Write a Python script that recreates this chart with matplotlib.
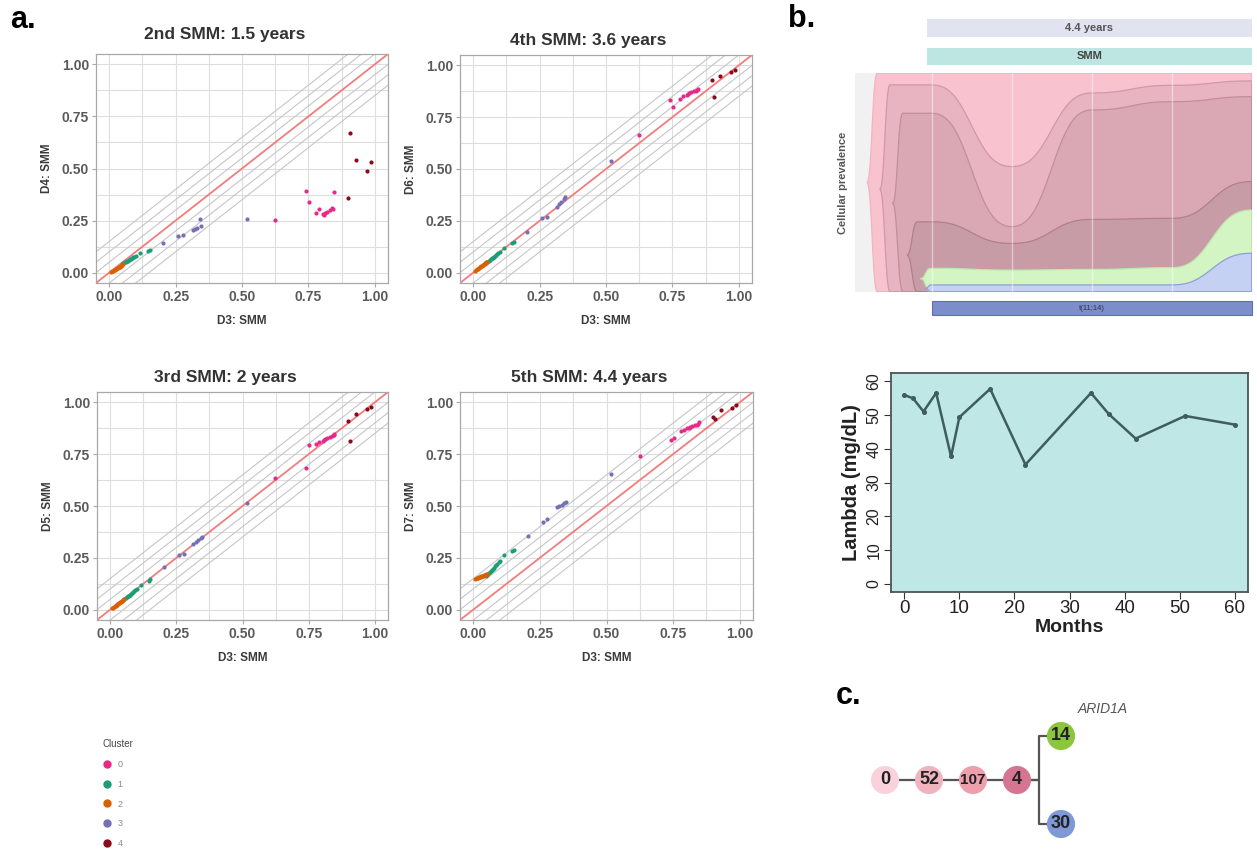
import numpy as np
import matplotlib
matplotlib.use("Agg")
import matplotlib.pyplot as plt
from matplotlib.patches import Rectangle, Circle
from matplotlib.lines import Line2D
from matplotlib.ticker import FormatStrFormatter

plt.rcParams['font.family'] = ['Liberation Sans', 'DejaVu Sans']

# ---------------- variant allele fractions by cluster ----------------
cluster_ids = [0, 1, 2, 3, 4]
cluster_colors = ['#E7298A', '#1B9E77', '#D95F02', '#7570B3', '#8B0A1A']

cluster = np.array([2] * 16 + [1] * 16 + [3] * 9 + [0] * 13 + [4] * 5)

d3 = np.array([
    0.008, 0.012, 0.015, 0.018, 0.021, 0.024, 0.027, 0.030, 0.032, 0.035, 0.038, 0.040, 0.043, 0.046, 0.049, 0.052,
    0.048, 0.053, 0.058, 0.062, 0.066, 0.070, 0.074, 0.078, 0.082, 0.086, 0.090, 0.095, 0.100, 0.116, 0.146, 0.152,
    0.204, 0.260, 0.277, 0.314, 0.323, 0.332, 0.342, 0.347, 0.518,
    0.624, 0.741, 0.753, 0.779, 0.791, 0.804, 0.809, 0.813, 0.821, 0.831, 0.838, 0.844, 0.847,
    0.900, 0.906, 0.928, 0.970, 0.985])

d4 = np.array([
    0.004, 0.006, 0.009, 0.011, 0.013, 0.016, 0.018, 0.020, 0.022, 0.025, 0.027, 0.029, 0.031, 0.034, 0.036, 0.040,
    0.041, 0.045, 0.049, 0.052, 0.055, 0.058, 0.061, 0.064, 0.067, 0.070, 0.073, 0.076, 0.080, 0.092, 0.104, 0.107,
    0.140, 0.177, 0.180, 0.204, 0.208, 0.214, 0.257, 0.224, 0.257,
    0.252, 0.392, 0.340, 0.287, 0.305, 0.280, 0.276, 0.285, 0.289, 0.300, 0.308, 0.304, 0.388,
    0.360, 0.672, 0.540, 0.489, 0.532])

d5 = np.array([
    0.006, 0.010, 0.013, 0.016, 0.019, 0.022, 0.025, 0.028, 0.030, 0.033, 0.036, 0.038, 0.041, 0.044, 0.046, 0.049,
    0.046, 0.051, 0.056, 0.060, 0.064, 0.068, 0.072, 0.076, 0.080, 0.084, 0.088, 0.093, 0.098, 0.118, 0.140, 0.146,
    0.205, 0.264, 0.268, 0.318, 0.326, 0.335, 0.345, 0.350, 0.513,
    0.637, 0.685, 0.794, 0.800, 0.808, 0.815, 0.818, 0.822, 0.826, 0.832, 0.838, 0.842, 0.846,
    0.912, 0.814, 0.944, 0.966, 0.976])

d6 = np.array([
    0.009, 0.013, 0.016, 0.019, 0.022, 0.025, 0.028, 0.031, 0.033, 0.036, 0.039, 0.041, 0.044, 0.047, 0.050, 0.053,
    0.047, 0.052, 0.057, 0.061, 0.065, 0.069, 0.073, 0.077, 0.081, 0.085, 0.089, 0.094, 0.099, 0.117, 0.144, 0.150,
    0.198, 0.262, 0.270, 0.318, 0.330, 0.340, 0.355, 0.366, 0.539,
    0.664, 0.833, 0.800, 0.840, 0.850, 0.858, 0.862, 0.866, 0.870, 0.874, 0.876, 0.880, 0.884,
    0.929, 0.846, 0.949, 0.970, 0.980])

d7 = np.array([
    0.150, 0.152, 0.153, 0.155, 0.156, 0.157, 0.158, 0.160, 0.161, 0.162, 0.164, 0.165, 0.166, 0.168, 0.170, 0.172,
    0.160, 0.167, 0.175, 0.180, 0.186, 0.192, 0.197, 0.203, 0.209, 0.215, 0.221, 0.228, 0.235, 0.262, 0.284, 0.290,
    0.355, 0.424, 0.437, 0.495, 0.500, 0.505, 0.515, 0.521, 0.654,
    0.741, 0.818, 0.830, 0.860, 0.868, 0.875, 0.878, 0.882, 0.886, 0.890, 0.893, 0.897, 0.905,
    0.930, 0.918, 0.965, 0.975, 0.985])

panel_titles = ['2nd SMM: 1.5 years', '4th SMM: 3.6 years', '3rd SMM: 2 years', '5th SMM: 4.4 years']
panel_ylabels = ['D4: SMM', 'D6: SMM', 'D5: SMM', 'D7: SMM']
band_offsets = [0.05, 0.10, 0.15]

# ---------------- fish plot (clonal prevalence per sample) ----------------
fish_times = [1, 2, 3, 4, 5]
clone_start = [0.19, 0.35, 0.51, 0.69, 0.86, 0.92]
clone_start_level = [0.50, 0.47, 0.405, 0.168, 0.06, 0.015]
clone_prev = [
    [1.000, 1.000, 1.000, 1.000, 1.000],
    [0.947, 0.573, 0.910, 0.945, 0.965],
    [0.817, 0.298, 0.832, 0.870, 0.893],
    [0.320, 0.221, 0.331, 0.336, 0.504],
    [0.107, 0.099, 0.102, 0.110, 0.374],
    [0.031, 0.031, 0.031, 0.031, 0.176],
]
clone_fill = ['#f8c2cf', '#e8b4c1', '#d9a8b4', '#c89ca7', '#d3f5c4', '#c5d1f2']
clone_edge = ['#f3b3c3', '#d497a8', '#c38d9c', '#b07f8c', '#bfe6ad', '#8e9fd6']

# ---------------- serum lambda light chain ----------------
months = [0, 1.6, 3.5, 5.8, 8.5, 10.0, 15.6, 22.0, 33.9, 37.1, 42.0, 51.0, 60.1]
lambda_mgdl = [55.9, 54.9, 51.0, 56.5, 37.7, 49.3, 57.7, 35.3, 56.5, 50.3, 43.0, 49.7, 47.1]

# ---------------- clonal tree ----------------
node_labels = ['0', '52', '107', '4', '14', '30']
node_parent = [-1, 0, 1, 2, 3, 3]
node_colors = ['#f9d2db', '#f0b4c1', '#eda0ac', '#d57592', '#8cc63f', '#7e99d5']
node_fontsize = [13, 13, 11, 13, 13, 13]

W, H = 1257, 851
fig = plt.figure(figsize=(W / 100, H / 100), dpi=100)


def box(l, t, r, b):
    """axes rectangle from pixel edges"""
    return [l / W, 1 - b / H, (r - l) / W, (b - t) / H]


def fpt(x, y):
    return x / W, 1 - y / H


# ---------------- panel a: pairwise VAF scatter plots ----------------
panel_boxes = [box(96, 54, 388, 283), box(460, 55, 752, 283),
               box(97, 392, 388, 620), box(460, 392, 753, 620)]
panel_y = [d4, d6, d5, d7]
major = [0, 0.25, 0.5, 0.75, 1.0]
minor = [0.125, 0.375, 0.625, 0.875]
diag = np.array([-0.2, 1.2])

for n, (rect, yv, ttl, ylab) in enumerate(zip(panel_boxes, panel_y, panel_titles, panel_ylabels)):
    ax = fig.add_axes(rect)
    ax.set_xlim(-0.05, 1.05)
    ax.set_ylim(-0.05, 1.05)
    ax.set_xticks(major)
    ax.set_yticks(major)
    ax.set_xticks(minor, minor=True)
    ax.set_yticks(minor, minor=True)
    ax.xaxis.set_major_formatter(FormatStrFormatter('%.2f'))
    ax.yaxis.set_major_formatter(FormatStrFormatter('%.2f'))
    ax.grid(which='both', color='#dedede', lw=0.8)
    ax.set_axisbelow(True)
    for off in band_offsets:
        ax.plot(diag, diag + off, color='#c6c6c6', lw=0.8, zorder=1)
        ax.plot(diag, diag - off, color='#c6c6c6', lw=0.8, zorder=1)
    ax.plot(diag, diag, color='#f27c7c', lw=1.3, zorder=2)
    for cid, col in zip(cluster_ids, cluster_colors):
        m = cluster == cid
        ax.scatter(d3[m], yv[m], s=9, color=col, lw=0, zorder=3)
    for sp in ax.spines.values():
        sp.set_color('#a8a8a8')
        sp.set_linewidth(0.9)
    ax.tick_params(which='major', length=3, color='#a8a8a8', labelsize=10,
                   labelcolor='#5a5a5a', pad=2)
    ax.tick_params(which='minor', length=0)
    for lab in ax.get_xticklabels() + ax.get_yticklabels():
        lab.set_fontweight('bold')
    ax.set_xlabel('D3: SMM', fontsize=8.5, fontweight='bold', color='#3a3a3a', labelpad=8)
    ax.set_ylabel(ylab, fontsize=8.5, fontweight='bold', color='#3a3a3a', labelpad=6)
    ax.set_title(ttl, fontsize=12.5, fontweight='bold', color='#333333', x=0.44,
                 pad=11 if n == 0 else 7)

# legend for clusters
handles = [Line2D([], [], marker='o', ls='', color=c, ms=5) for c in cluster_colors]
leg = fig.legend(handles, [str(c) for c in cluster_ids], title='Cluster',
                 loc='upper left', bbox_to_anchor=fpt(94, 731), frameon=False,
                 fontsize=6.5, title_fontsize=7, labelspacing=1.2,
                 handletextpad=0.7, handlelength=1.0, alignment='left',
                 labelcolor='#888888')
leg.get_title().set_color('#444444')

# ---------------- panel b: fish plot ----------------
axf = fig.add_axes(box(851.7, 73.3, 1251.7, 291.7))
axf.set_xlim(0, 5)
axf.set_ylim(0, 1)
axf.axis('off')
axf.add_patch(Rectangle((0.04, 0), 4.96, 1.0, facecolor='#f1f1f1', edgecolor='none', zorder=0))


def smooth_path(kx, ky, t):
    """piecewise sigmoid transition between successive knots"""
    kx = np.asarray(kx, float)
    ky = np.asarray(ky, float)
    i = np.clip(np.searchsorted(kx, t, side='right') - 1, 0, len(kx) - 2)
    u = np.clip((t - kx[i]) / (kx[i + 1] - kx[i]), 0, 1)
    wc = (1 - np.cos(np.pi * u)) / 2
    w = 0.5 * wc + 0.5 * wc * wc * (3 - 2 * wc)
    return ky[i] + (ky[i + 1] - ky[i]) * w


for k, (s0, lvl, prev) in enumerate(zip(clone_start, clone_start_level, clone_prev)):
    ramp = min(0.13, (fish_times[0] - s0) * 0.9)
    kx = [s0, s0 + ramp] + fish_times
    top = [lvl, prev[0]] + prev
    bot = [lvl, 0.0] + [0.0] * len(prev)
    t = np.linspace(s0, fish_times[-1], 900)
    yt = smooth_path(kx, top, t)
    yb = smooth_path(kx, bot, t)
    axf.fill(np.concatenate([t, t[::-1]]), np.concatenate([yt, yb[::-1]]),
             facecolor=clone_fill[k], edgecolor=clone_edge[k], lw=0.9, zorder=2 + k)

for tp in fish_times[:-1]:
    axf.plot([tp, tp], [0, 1], color='white', lw=1.0, alpha=0.45, zorder=10)

# annotation bars above and below the fish plot
bar_x0 = 0.94
axf.add_patch(Rectangle((bar_x0, 1.168), fish_times[-1] - bar_x0, 0.08, facecolor='#e2e3f0',
                        edgecolor='none', clip_on=False))
axf.text((bar_x0 + fish_times[-1]) / 2, 1.208, '4.4 years', ha='center', va='center',
         fontsize=8, fontweight='bold', color='#555555')
axf.add_patch(Rectangle((bar_x0, 1.038), fish_times[-1] - bar_x0, 0.08, facecolor='#bde6e2',
                        edgecolor='none', clip_on=False))
axf.text((bar_x0 + fish_times[-1]) / 2, 1.078, 'SMM', ha='center', va='center',
         fontsize=8, fontweight='bold', color='#444444')
axf.add_patch(Rectangle((fish_times[0], -0.107), fish_times[-1] - fish_times[0], 0.064,
                        facecolor='#7b8dca', edgecolor='#5d6fae', lw=0.8, clip_on=False))
axf.text((fish_times[0] + fish_times[-1]) / 2, -0.075, 't(11;14)', ha='center', va='center',
         fontsize=5.5, color='#333355')

fig.text(*fpt(843, 183), 'Cellular prevalence', rotation=90, ha='center', va='center',
         fontsize=8, fontweight='bold', color='#555555')

# ---------------- panel b: lambda over time ----------------
axl = fig.add_axes(box(891, 373, 1248, 592))
axl.set_facecolor('#bfe7e5')
axl.plot(months, lambda_mgdl, color='#3f5d5c', lw=1.8, marker='o', ms=2.6, zorder=3)
axl.set_xlim(-2.4, 62.4)
axl.set_ylim(-2.4, 62.4)
axl.set_xticks(range(0, 61, 10))
axl.set_yticks(range(0, 61, 10))
for sp in axl.spines.values():
    sp.set_color('#4a5656')
    sp.set_linewidth(1.3)
axl.tick_params(axis='x', length=5, color='#333333', labelsize=13.5, pad=1, labelcolor='#222222')
axl.tick_params(axis='y', length=5, color='#333333', labelsize=11.5, pad=2, labelcolor='#222222')
for lab in axl.get_yticklabels():
    lab.set_rotation(90)
    lab.set_va('center')
axl.set_xlabel('Months', fontsize=14, fontweight='bold', labelpad=1, color='#222222')
axl.set_ylabel('Lambda (mg/dL)', fontsize=14.5, fontweight='bold', labelpad=4, color='#222222')

# ---------------- panel c: clonal tree ----------------
axt = fig.add_axes(box(841, 692, 1105, 868))
axt.set_xlim(-1, 5)
axt.set_ylim(-2, 2)
axt.axis('off')

depth = []
for i, p in enumerate(node_parent):
    depth.append(0 if p < 0 else depth[p] + 1)
ypos = [0.0] * len(node_labels)
for i, p in enumerate(node_parent):
    if p >= 0:
        sibs = [j for j, q in enumerate(node_parent) if q == p]
        if len(sibs) > 1:
            ypos[i] = ypos[p] + (1.0 if sibs.index(i) == 0 else -1.0)
        else:
            ypos[i] = ypos[p]

for i, p in enumerate(node_parent):
    if p < 0:
        continue
    if ypos[i] == ypos[p]:
        axt.plot([depth[p], depth[i]], [ypos[p], ypos[i]], color='#555555', lw=1.6, zorder=1)
    else:
        xm = (depth[p] + depth[i]) / 2
        axt.plot([depth[p], xm, xm, depth[i]], [ypos[p], ypos[p], ypos[i], ypos[i]],
                 color='#555555', lw=1.6, zorder=1)

for i, lab in enumerate(node_labels):
    axt.add_patch(Circle((depth[i], ypos[i]), 0.32, facecolor=node_colors[i],
                         edgecolor='none', zorder=2))
    axt.text(depth[i], ypos[i], lab, ha='center', va='center', fontsize=node_fontsize[i],
             fontweight='bold', color='#222222', zorder=3)

axt.text(depth[4] + 0.95, ypos[4] + 0.62, 'ARID1A', ha='center', va='center', fontsize=10,
         fontstyle='italic', color='#555555')

# ---------------- panel letters ----------------
fig.text(*fpt(10, 28), 'a.', fontsize=22, fontweight='bold', va='baseline', ha='left')
fig.text(*fpt(788, 27), 'b.', fontsize=22, fontweight='bold', va='baseline', ha='left')
fig.text(*fpt(836, 704), 'c.', fontsize=22, fontweight='bold', va='baseline', ha='left')

fig.savefig('out.png', dpi=100, facecolor='white')
